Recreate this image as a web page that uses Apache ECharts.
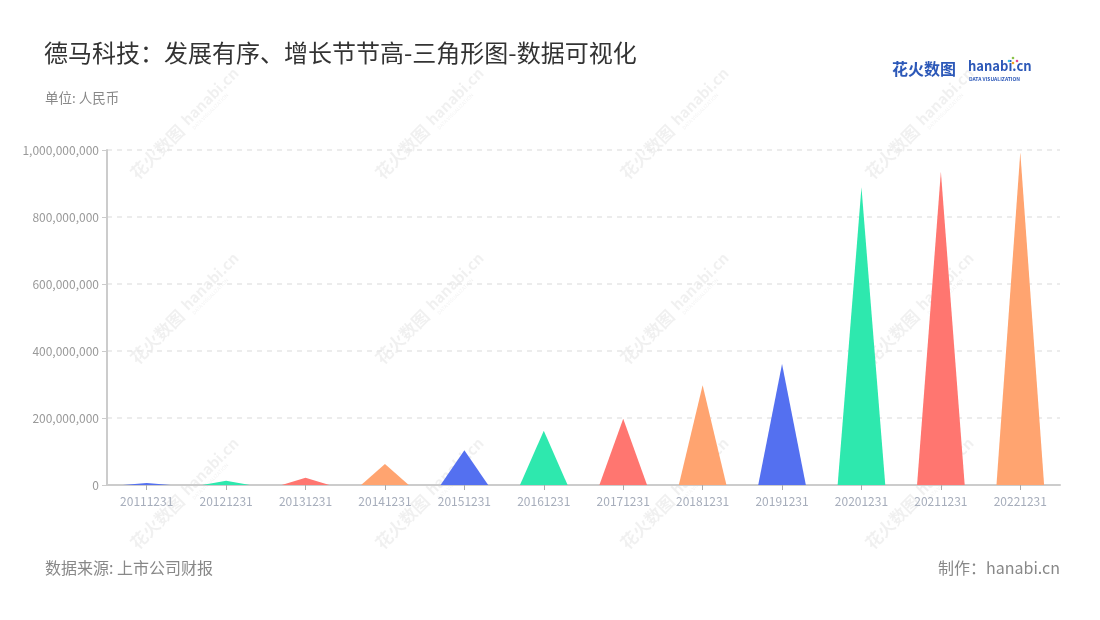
<!DOCTYPE html>
<html>
<head>
<meta charset="utf-8">
<script src="https://cdn.jsdelivr.net/npm/echarts@6/dist/echarts.min.js"></script>
<style>
html,body{margin:0;padding:0;background:#fff;}
#main{width:1100px;height:620px;}
</style>
</head>
<body>
<div id="main"></div>
<script>
var categories = ['20111231','20121231','20131231','20141231','20151231','20161231','20171231','20181231','20191231','20201231','20211231','20221231'];
var values = [6000000, 13000000, 22000000, 63000000, 104000000, 162000000, 198000000, 298000000, 361000000, 889000000, 935000000, 993000000];
var palette = ['#5470F0', '#2EE8AE', '#FF7670', '#FFA470'];
var yTicks = [0, 200000000, 400000000, 600000000, 800000000, 1000000000];

var FONT = '"Noto Sans CJK SC", "Noto Sans", sans-serif';

var seriesData = values.map(function (v, i) {
  return { value: v, itemStyle: { color: palette[i % palette.length] } };
});

function fmt(v) {
  return String(v).replace(/\B(?=(\d{3})+(?!\d))/g, ',');
}

// watermarks
var wm = [];
var cols = [184, 429, 674, 919];
var rows = [125, 310, 495];
rows.forEach(function (y) {
  cols.forEach(function (x) {
    wm.push({
      type: 'group',
      x: x, y: y,
      rotation: Math.PI / 4,
      z: 100,
      silent: true,
      children: [
        { type: 'text', x: -72, y: 0, style: { text: '花火数图', font: 'bold 17px ' + FONT, fill: 'rgba(0,0,0,0.06)', verticalAlign: 'middle', align: 'left' } },
        { type: 'text', x: 2, y: -2, style: { text: 'hanabi.cn', font: 'bold 15px ' + FONT, fill: 'rgba(0,0,0,0.06)', verticalAlign: 'middle', align: 'left' } },
        { type: 'text', x: 4, y: 9, style: { text: 'DATA VISUALIZATION', font: '5px ' + FONT, fill: 'rgba(0,0,0,0.06)', verticalAlign: 'middle', align: 'left' } }
      ]
    });
  });
});

var chart = echarts.init(document.getElementById('main'), null, { renderer: 'canvas' });
chart.setOption({
  backgroundColor: '#fff',
  animation: false,
  textStyle: { fontFamily: FONT },
  title: [
    { text: '德马科技：发展有序、增长节节高-三角形图-数据可视化', left: 39, top: 36, textStyle: { fontSize: 24, fontWeight: 'normal', color: '#333', fontFamily: FONT } },
    { text: '单位: 人民币', left: 40, top: 86, textStyle: { fontSize: 13.5, fontWeight: 'normal', color: '#888', fontFamily: FONT } },
    { text: '数据来源: 上市公司财报', left: 40, top: 555, textStyle: { fontSize: 16, fontWeight: 'normal', color: '#888', fontFamily: FONT } },
    { text: '制作：hanabi.cn', right: 35, top: 555, textStyle: { fontSize: 16, fontWeight: 'normal', color: '#888', fontFamily: FONT } }
  ],
  grid: { left: 107, right: 40, top: 150, bottom: 135, containLabel: false },
  xAxis: {
    type: 'category',
    data: categories,
    axisLine: { lineStyle: { color: '#ccc', width: 2 } },
    axisTick: { show: true, alignWithLabel: true, lineStyle: { color: '#aaa' } },
    axisLabel: { color: '#a6adbb', fontSize: 12, margin: 10 }
  },
  yAxis: {
    type: 'value',
    min: yTicks[0],
    max: yTicks[yTicks.length - 1],
    interval: yTicks[1] - yTicks[0],
    axisLine: { show: true, lineStyle: { color: '#ccc', width: 2 } },
    axisTick: { show: true, lineStyle: { color: '#ccc' } },
    axisLabel: { color: '#999', fontSize: 12, formatter: fmt },
    splitLine: { lineStyle: { color: '#e6e6e6', type: [5, 5], width: 1.5 } }
  },
  series: [{
    type: 'pictorialBar',
    symbol: 'triangle',
    barCategoryGap: '40%',
    data: seriesData
  }],
  graphic: [
    { type: 'text', left: 892, top: 61, style: { text: '花火数图', font: 'bold 16px ' + FONT, fill: '#2C58B8' } },
    { type: 'text', left: 968, top: 60, style: { text: 'hanabi.cn', font: 'bold 13px ' + FONT, fill: '#2C58B8' } },
    { type: 'text', left: 969, top: 77, style: { text: 'DATA VISUALIZATION', font: 'bold 5px ' + FONT, fill: '#2C58B8' } },
    { type: 'circle', shape: { cx: 1013, cy: 63, r: 1.3 }, style: { fill: '#F5A623' } },
    { type: 'circle', shape: { cx: 1017, cy: 61, r: 1.3 }, style: { fill: '#E74C8B' } },
    { type: 'circle', shape: { cx: 1009, cy: 61, r: 1.3 }, style: { fill: '#3DB9E8' } },
    { type: 'circle', shape: { cx: 1013, cy: 58, r: 1.3 }, style: { fill: '#8BC34A' } }
  ].concat(wm)
});
</script>
</body>
</html>
